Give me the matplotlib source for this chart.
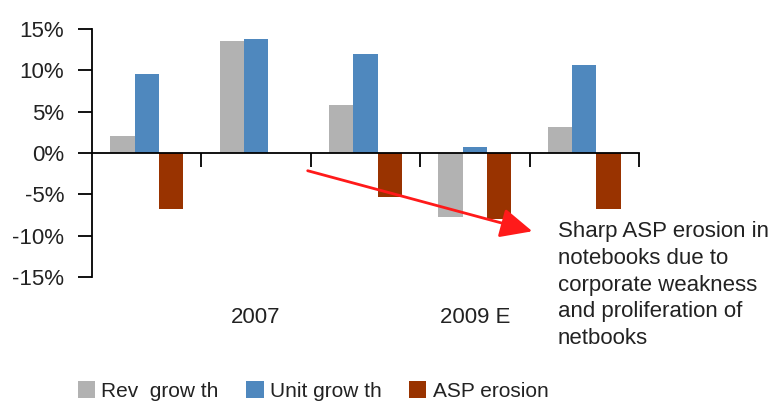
import numpy as np
import matplotlib.pyplot as plt
from matplotlib.patches import Patch, FancyArrowPatch

plt.rcParams['font.family'] = ['Liberation Sans', 'DejaVu Sans']

# Данные
years = ["2006", "2007", "2008", "2009 E", "2010 E"]
shown_labels = ["", "2007", "", "2009 E", ""]
rev_growth = [2.0, 13.6, 5.8, -7.8, 3.2]
unit_growth = [9.5, 13.8, 12.0, 0.7, 10.7]
asp_erosion = [-6.8, 0.0, -5.3, -8.0, -6.8]

series_names = ["Rev  grow th", "Unit grow th", "ASP erosion"]
colors = ["#b2b2b2", "#4f88be", "#993300"]
fs = 16

fig = plt.figure(figsize=(7.78, 4.05), dpi=100)
ax = fig.add_axes([92 / 778, 1 - 277 / 405, (639 - 92) / 778, (277 - 29) / 405])

x = np.arange(len(years)) + 0.5
w = 1 / 4.5

for i, (vals, c) in enumerate(zip([rev_growth, unit_growth, asp_erosion], colors)):
    ax.bar(x + (i - 1) * w, vals, width=w, color=c, edgecolor="none", zorder=2)

ax.set_xlim(0, len(years))
ax.set_ylim(-15, 15)
ax.set_yticks(range(-15, 16, 5))
ax.set_yticklabels([f"{v}%" for v in range(-15, 16, 5)], fontsize=fs, color="#222222")

# Оси: горизонтальная линия на нуле
for s in ["top", "right"]:
    ax.spines[s].set_visible(False)
ax.spines["bottom"].set_position(("data", 0))
ax.spines["bottom"].set_linewidth(1.3)
ax.spines["left"].set_linewidth(1.3)
ax.spines["bottom"].set_zorder(3)

ax.set_xticks(np.arange(1, len(years) + 1))
ax.set_xticklabels([])
ax.tick_params(axis="x", direction="out", length=10, width=1.3)
ax.tick_params(axis="y", direction="out", length=10, width=1.3, pad=10)

# Подписи годов внизу области построения
for xi, lab in zip(x, shown_labels):
    ax.text(xi, -0.165, lab, transform=ax.get_xaxis_transform(),
            ha="center", va="center", fontsize=fs, color="#222222")

# Стрелка и комментарий
fig.patches.append(FancyArrowPatch(
    (305 / 778, 1 - 170 / 405), (535 / 778, 1 - 232 / 405),
    transform=fig.transFigure, arrowstyle="-|>,head_length=1.4,head_width=0.65",
    mutation_scale=14, color="#ff1a1a", linewidth=2))

fig.text(558 / 778, 1 - 221 / 405,
         "Sharp ASP erosion in\nnotebooks due to\ncorporate weakness\nand proliferation of\nnetbooks",
         ha="left", va="top", fontsize=fs, color="#222222", linespacing=1.36,
         transform=fig.transFigure)

handles = [Patch(facecolor=c, edgecolor="none") for c in colors]
fig.legend(handles, series_names, loc="center", bbox_to_anchor=(313 / 778, 1 - 391 / 405),
           ncol=3, frameon=False, fontsize=15, handlelength=0.85, handleheight=0.85,
           handletextpad=0.3, columnspacing=1.3, labelcolor="#222222")

plt.savefig("out.png", dpi=100)
plt.close()
